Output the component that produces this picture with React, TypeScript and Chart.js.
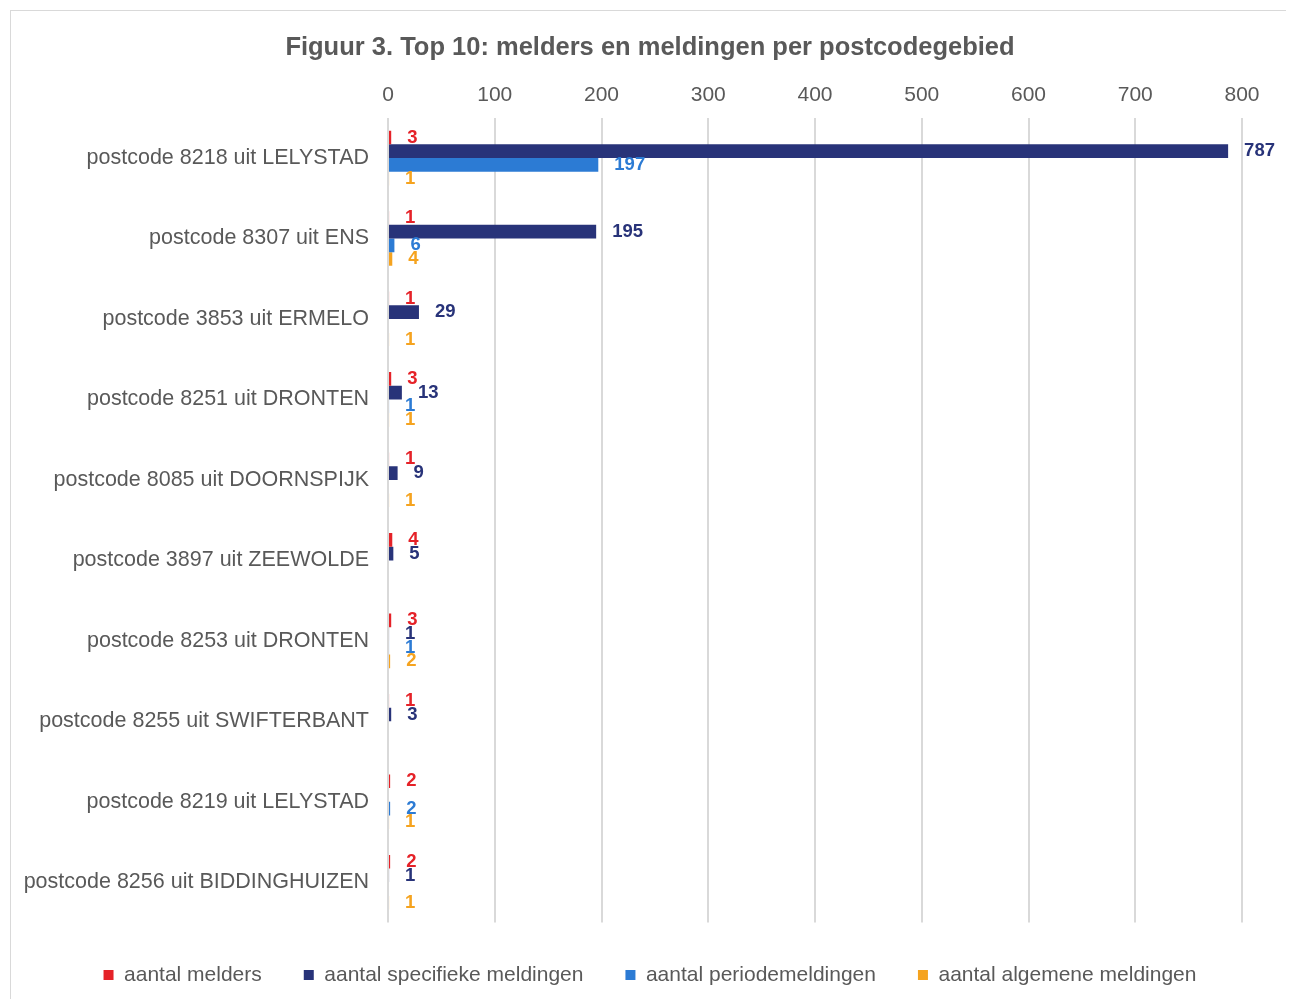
import React, { useEffect, useRef } from "react";
import { Chart, registerables } from "chart.js";

Chart.register(...registerables);

const titleText = "Figuur 3. Top 10: melders en meldingen per postcodegebied";

const categories = [
  "postcode 8218 uit LELYSTAD",
  "postcode 8307 uit ENS",
  "postcode 3853 uit ERMELO",
  "postcode 8251 uit DRONTEN",
  "postcode 8085 uit DOORNSPIJK",
  "postcode 3897 uit ZEEWOLDE",
  "postcode 8253 uit DRONTEN",
  "postcode 8255 uit SWIFTERBANT",
  "postcode 8219 uit LELYSTAD",
  "postcode 8256 uit BIDDINGHUIZEN",
];

const seriesNames = [
  "aantal melders",
  "aantal specifieke meldingen",
  "aantal periodemeldingen",
  "aantal algemene meldingen",
];

const melders = [3, 1, 1, 3, 1, 4, 3, 1, 2, 2];
const specifiekeMeldingen = [787, 195, 29, 13, 9, 5, 1, 3, null, 1];
const periodeMeldingen = [197, 6, null, 1, null, null, 1, null, 2, null];
const algemeneMeldingen = [1, 4, 1, 1, 1, null, 2, null, 1, 1];

const seriesColors = ["#E52228", "#283379", "#2C7BD4", "#F5A31F"];

const xTicks = { min: 0, max: 800, step: 100 };

const FONT = "'Liberation Sans', Arial, sans-serif";
const TEXT = "#595959";

const valueLabels = {
  id: "valueLabels",
  afterDatasetsDraw(chart: any) {
    const ctx = chart.ctx;
    ctx.save();
    ctx.font = `bold 18.5px ${FONT}`;
    ctx.textAlign = "left";
    ctx.textBaseline = "middle";
    chart.data.datasets.forEach((ds: any, di: number) => {
      const meta = chart.getDatasetMeta(di);
      if (meta.hidden) return;
      meta.data.forEach((bar: any, i: number) => {
        const v = ds.data[i];
        if (v === null || v === undefined) return;
        ctx.fillStyle = seriesColors[di];
        ctx.fillText(String(v), bar.x + 16, bar.y);
      });
    });
    ctx.restore();
  },
};

export default function App() {
  const ref = useRef<HTMLCanvasElement | null>(null);

  useEffect(() => {
    if (!ref.current) return;
    const allSeries = [melders, specifiekeMeldingen, periodeMeldingen, algemeneMeldingen];
    const chart = new Chart(ref.current, {
      type: "bar",
      data: {
        labels: categories,
        datasets: allSeries.map((d, i) => ({
          label: seriesNames[i],
          data: d as any,
          backgroundColor: seriesColors[i],
          borderWidth: 0,
          barPercentage: 1,
          categoryPercentage: 0.68,
        })),
      },
      options: {
        indexAxis: "y",
        animation: false,
        responsive: false,
        maintainAspectRatio: false,
        layout: { padding: { left: 0, right: 0, top: 0, bottom: 3.5 } },
        scales: {
          x: {
            position: "top",
            min: xTicks.min,
            max: xTicks.max,
            ticks: {
              stepSize: xTicks.step,
              color: TEXT,
              font: { family: FONT, size: 21 },
              padding: 10,
            },
            grid: { color: "#d9d9d9", lineWidth: 2, drawTicks: false },
            border: { display: false },
            afterFit: (scale: any) => {
              scale.paddingRight = 47;
            },
          },
          y: {
            ticks: {
              color: TEXT,
              font: { family: FONT, size: 21.5 },
              padding: 19,
            },
            grid: { display: false, drawTicks: false },
            border: { display: false },
            afterFit: (scale: any) => {
              scale.width = 377;
            },
          },
        },
        plugins: {
          title: {
            display: true,
            text: titleText,
            color: TEXT,
            font: { family: FONT, size: 25.5, weight: "bold" },
            padding: { top: 22, bottom: 9 },
          },
          legend: {
            position: "bottom",
            labels: {
              boxWidth: 10,
              boxHeight: 10,
              color: TEXT,
              font: { family: FONT, size: 21 },
              padding: 42,
            },
          },
          tooltip: { enabled: false },
        },
      },
      plugins: [valueLabels],
    });
    return () => chart.destroy();
  }, []);

  return (
    <div
      style={{
        marginLeft: 2,
        marginTop: 2,
        width: 1280,
        height: 990,
        border: "1px solid #d9d9d9",
        boxSizing: "border-box",
        background: "#fff",
      }}
    >
      <canvas ref={ref} width={1278} height={988} style={{ display: "block" }} />
    </div>
  );
}
